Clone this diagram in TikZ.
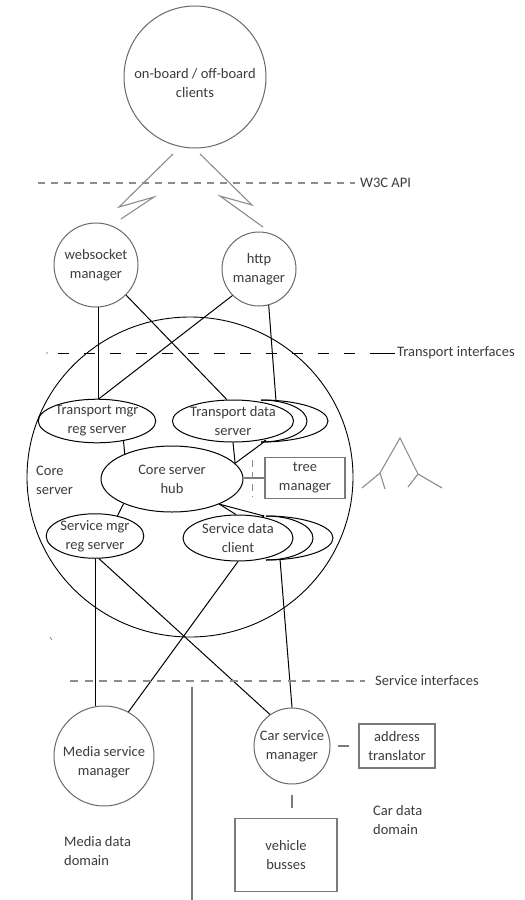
\documentclass[tikz,border=0pt]{standalone}
\usepackage{fontspec}
\setmainfont{Carlito}
\usetikzlibrary{shapes.geometric}
\definecolor{txtc}{HTML}{3C3C3C}
\definecolor{circc}{HTML}{6A6A6A}
\definecolor{boxc}{HTML}{7A7A7A}
\definecolor{dashc}{HTML}{8C8C8C}
\begin{document}
\begin{tikzpicture}[x=1pt,y=-1pt,
  font=\fontsize{14.5}{19}\selectfont,
  every node/.style={text=txtc, align=center, inner sep=0pt},
  circ/.style={draw=circc, line width=1pt, circle, inner sep=0pt},
  ell/.style={draw=black, line width=1pt, ellipse, inner sep=0pt},
  gbox/.style={draw=boxc, line width=1.1pt, rectangle},
  conn/.style={draw=black, line width=1pt},
  gconn/.style={draw=boxc, line width=1.1pt},
  gdash/.style={draw=dashc, line width=1.1pt, dash pattern=on 7pt off 6pt},
  sdash/.style={draw=dashc, line width=1.1pt, dash pattern=on 8pt off 6.5pt},
  tdash/.style={draw=black, line width=0.9pt, dash pattern=on 11pt off 15pt},
  zig/.style={draw=dashc, line width=1.1pt},
  treesym/.style={draw=dashc, line width=1.1pt}
]
\useasboundingbox (0,0) rectangle (525,900);
\fill[white] (0,0) rectangle (525,900);

% top clients
\node[circ, minimum size=142pt] (clients) at (195,77) {};
\node (clientsT) at (195,83) {on-board / off-board\\clients};

% W3C API line
\coordinate (w3a) at (38,183);
\coordinate (w3b) at (355,183);
\draw[gdash] (w3a) -- (w3b);
\node[anchor=west] (w3c) at (360,183) {W3C API};

% zigzags
\draw[zig] (173,154) -- (119,207) -- (154,197) -- (121,219);
\draw[zig] (200,154) -- (252,205) -- (220,196) -- (263,227);

% managers
\node[circ, minimum size=84pt] (ws) at (96,265) {websocket\\manager};
\node[circ, minimum size=74pt] (http) at (259,269) {http\\manager};

% core server
\node[ellipse, draw=black, line width=0.9pt, minimum width=326pt, minimum height=320pt] (core) at (190,477) {};
\node[anchor=west, align=left] (coreL) at (36,480) {Core\\server};

% transport interfaces line
\coordinate (tra) at (58,353);
\coordinate (trb) at (380,353);
\coordinate (trc) at (395,353);
\fill[black] (47,353) circle (0.6pt);
\draw[tdash] (tra) -- (trb);
\draw[conn, line width=0.9pt] (trb) -- (trc);
\node[anchor=west] (trI) at (397,353) {Transport interfaces};

% inner ellipses
\node[ell, minimum width=110pt, minimum height=42pt] (tmr) at (97,421) {Transport mgr\\reg server};
\node[ell, minimum width=114pt, minimum height=42pt] (tds) at (233,421) {Transport data\\server};
\node[ell, minimum width=142pt, minimum height=66pt] (hub) at (172,479) {Core server\\hub};
\node[ell, minimum width=94pt, minimum height=42pt] (smr) at (95,536) {Service mgr\\reg server};
\node[ell, minimum width=110pt, minimum height=46pt] (sdc) at (238,538) {Service data\\client};

% nested arcs
\draw[conn] (261,400) arc[start angle=-90, end angle=90, x radius=46, y radius=21];
\draw[conn] (261,400) arc[start angle=-90, end angle=90, x radius=67, y radius=21];
\draw[conn] (266,516) arc[start angle=-90, end angle=90, x radius=47, y radius=22];
\draw[conn] (266,516) arc[start angle=-90, end angle=90, x radius=67, y radius=22];
\fill[black] (265,441) circle (1.3pt);
\fill[black] (263,516) circle (1.3pt);

\coordinate (tdsT) at (276,401);
\coordinate (tdsB) at (264,442);
\coordinate (sdcT) at (264,516);
\coordinate (sdcB) at (280,559);

% tree manager
\node[gbox, minimum width=80pt, minimum height=41pt] (tree) at (305,478) {tree\\manager};
\draw[gconn] (tree.west) -- (tree.west -| hub.east);
\coordinate (tv1) at (252.5,460);
\coordinate (tv2) at (252.5,497);
\draw[draw=dashc, line width=1.1pt, dash pattern=on 7pt off 5pt] (tv1) -- (tv2);

% tree symbol
\draw[treesym] (362,488) -- (380,473) -- (400,438) -- (418,474) -- (442,488);
\draw[treesym] (380,473) -- (385,489);
\draw[treesym] (418,474) -- (408,487);

% connectors top
\draw[conn] (ws.273) -- (ws.273 |- tmr.north);
\draw[conn] (ws.-45) -- (tds.106);
\draw[conn] (http.-135) -- (tmr.85);
\draw[conn] (http.-75) -- (tdsT);
\draw[conn] (tds.south) -- (hub.14);
\draw[conn] (tdsB) -- (hub.14);
\draw[conn] (tmr.-37) -- (hub.152);
\draw[conn] (hub.207) -- (smr.42);
\draw[conn] (hub.-28) -- (sdc.95);
\draw[conn] (hub.-28) -- (sdcT);

% bottom managers
\node[circ, minimum size=100pt] (media) at (104,756) {};
\node (mediaT) at (104,762) {Media service\\manager};
\node[circ, minimum size=76pt] (car) at (292,746) {Car service\\manager};
\node[gbox, minimum width=76pt, minimum height=44pt] (addr) at (397,746) {address\\translator};
\node[gbox, minimum width=102pt, minimum height=73pt] (veh) at (286,855) {vehicle\\busses};

\draw[gconn, shorten <=7pt, shorten >=9pt] (car.east) -- (addr.west);
\draw[gconn, shorten <=10pt, shorten >=10pt] (car.south) -- (car.south |- veh.north);

% connectors bottom
\draw[conn] (smr.south) -- (smr.south |- media.north);
\draw[conn] (smr.-80) -- (car.125);
\draw[conn] (sdc.south) -- (media.61);
\draw[conn] (sdcB) -- (car.north);

% service interfaces
\coordinate (sia) at (70,681);
\coordinate (sib) at (365,681);
\draw[sdash] (sia) -- (sib);
\node[anchor=west] (siI) at (375,681) {Service interfaces};

\coordinate (vla) at (192,687);
\coordinate (vlb) at (192,900);
\draw[gconn] (vla) -- (vlb);
\draw[draw=dashc, line width=0.8pt] (50,637) -- (52,640);

\node[anchor=west, align=left] (mdd) at (64,851) {Media data\\domain};
\node[anchor=west, align=left] (cdd) at (373,820) {Car data\\domain};
\end{tikzpicture}
\end{document}
